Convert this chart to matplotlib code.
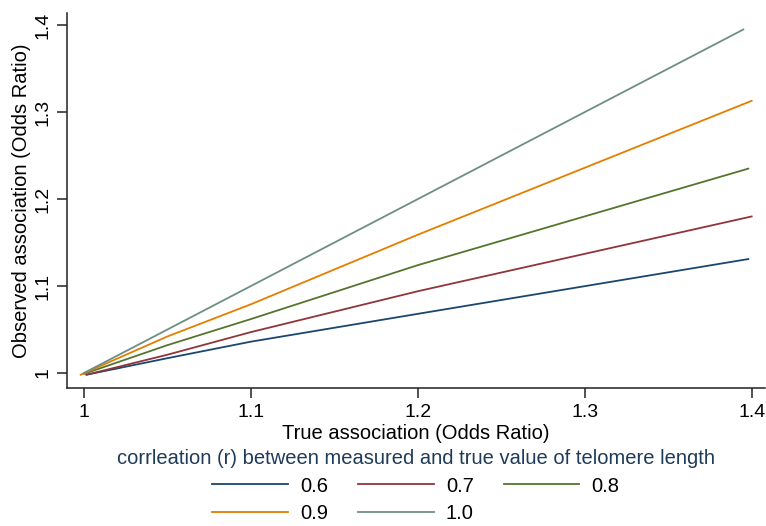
import matplotlib
matplotlib.use("Agg")
import matplotlib.pyplot as plt

plt.rcParams['font.family'] = ['Liberation Sans', 'DejaVu Sans']

# Data
labels = ["0.6", "0.7", "0.8", "0.9", "1.0"]
colors = ["#1a476f", "#90353b", "#55752f", "#e37e00", "#6e8e84"]

x_06 = [1.0015, 1.05, 1.10, 1.20, 1.398]
y_06 = [0.998, 1.017, 1.036, 1.068, 1.131]

x_07 = [1.0015, 1.05, 1.10, 1.20, 1.400]
y_07 = [0.998, 1.021, 1.047, 1.094, 1.180]

x_08 = [1.000, 1.05, 1.10, 1.20, 1.398]
y_08 = [0.999, 1.032, 1.062, 1.124, 1.235]

x_09 = [0.998, 1.05, 1.10, 1.20, 1.400]
y_09 = [0.998, 1.042, 1.079, 1.159, 1.313]

x_10 = [1.000, 1.05, 1.10, 1.20, 1.395]
y_10 = [1.000, 1.050, 1.100, 1.200, 1.395]

xticks = [1, 1.1, 1.2, 1.3, 1.4]
xticklabels = ["1", "1.1", "1.2", "1.3", "1.4"]
yticks = [1, 1.1, 1.2, 1.3, 1.4]
yticklabels = ["1", "1.1", "1.2", "1.3", "1.4"]

xs = [x_06, x_07, x_08, x_09, x_10]
ys = [y_06, y_07, y_08, y_09, y_10]

fig = plt.figure(figsize=(7.66, 5.26), dpi=100)
ax = fig.add_axes([67/766, 1-388/526, (765-67)/766, (388-13)/526])

handles = []
for x, y, c, lab in zip(xs, ys, colors, labels):
    h, = ax.plot(x, y, color=c, lw=1.3, label=lab)
    handles.append(h)

ax.set_xlim(0.9898, 1.408)
ax.set_ylim(0.9827, 1.414)
ax.set_xticks(xticks)
ax.set_xticklabels(xticklabels)
ax.set_yticks(yticks)
ax.set_yticklabels(yticklabels, rotation=90, va='center')

for s in ['top', 'right']:
    ax.spines[s].set_visible(False)
for s in ['left', 'bottom']:
    ax.spines[s].set_linewidth(1.1)
    ax.spines[s].set_color('#222222')

ax.tick_params(axis='both', direction='out', length=7, width=1.1, color='#222222',
               labelsize=14, pad=4.5)

ax.set_xlabel("True association (Odds Ratio)", fontsize=14.5, labelpad=2)
ax.set_ylabel("Observed association (Odds Ratio)", fontsize=14.5, labelpad=2)

order = [0, 3, 1, 4, 2]
leg = fig.legend([handles[i] for i in order], [labels[i] for i in order],
                 ncol=3, loc='center', bbox_to_anchor=(416/766, 1-486/526),
                 frameon=False, fontsize=14.5, handlelength=3.75, handletextpad=0.6,
                 columnspacing=1.5, labelspacing=0.4, borderpad=0.2,
                 title="corrleation (r) between measured and true value of telomere length",
                 title_fontsize=14.5)
leg.get_title().set_color('#1e3b5a')

fig.savefig("out.png", dpi=100, facecolor='white')
